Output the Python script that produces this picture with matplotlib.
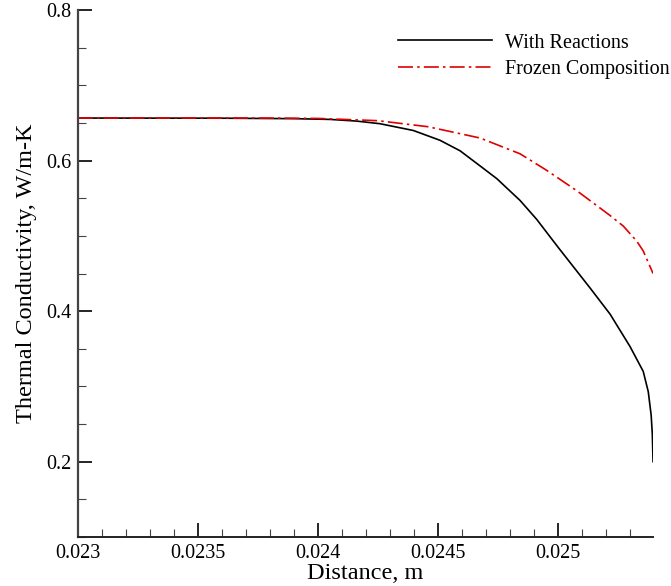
import matplotlib
matplotlib.use('Agg')
import matplotlib.pyplot as plt
from matplotlib.ticker import MultipleLocator

plt.rcParams['font.family'] = ['Liberation Serif', 'DejaVu Serif']

# with reactions (distance m, conductivity W/m-K)
x_react = [0.02300, 0.02360, 0.02390, 0.024050, 0.024160, 0.024258, 0.024397,
           0.024508, 0.024592, 0.024675, 0.024745, 0.024842, 0.024911, 0.025000,
           0.025133, 0.025217, 0.025300, 0.025355, 0.025376, 0.025388, 0.025393,
           0.025396]
k_react = [0.6565, 0.6563, 0.6557, 0.6547, 0.6525, 0.649, 0.640,
           0.627, 0.613, 0.593, 0.576, 0.547, 0.522, 0.485,
           0.431, 0.396, 0.353, 0.320, 0.293, 0.262, 0.236,
           0.200]

# frozen composition
x_frozen = [0.02300, 0.02380, 0.02400, 0.024250, 0.024458, 0.024675, 0.024842,
            0.024953, 0.025078, 0.025133, 0.025217, 0.025272, 0.025328, 0.025355,
            0.025396]
k_frozen = [0.6565, 0.6565, 0.6560, 0.653, 0.645, 0.630, 0.609,
            0.587, 0.560, 0.547, 0.527, 0.513, 0.493, 0.480,
            0.450]

fig = plt.figure(figsize=(6.71, 5.86), dpi=100)
ax = fig.add_axes([0.1162, 0.0836, 0.857, 0.8993])

ax.plot(x_react, k_react, color='black', lw=1.2, label='With Reactions')
ax.plot(x_frozen, k_frozen, color='#e00000', lw=1.2, dashes=(9, 2.5, 1.5, 2.5),
        label='Frozen Composition')

ax.set_xlim(0.023, 0.0253958)
ax.set_ylim(0.1, 0.8)
ax.xaxis.set_minor_locator(MultipleLocator(0.0001))
ax.yaxis.set_minor_locator(MultipleLocator(0.05))
ax.set_xticks([0.023, 0.0235, 0.024, 0.0245, 0.025])
ax.set_xticklabels(['0.023', '0.0235', '0.024', '0.0245', '0.025'])
ax.set_yticks([0.2, 0.4, 0.6, 0.8])
ax.set_yticklabels(['0.2', '0.4', '0.6', '0.8'])

ax.tick_params(which='major', direction='in', length=10, width=1.2,
               labelsize=14.5, colors='black', pad=5)
ax.tick_params(which='minor', direction='in', length=6, width=0.8, colors='#444444')

for s in ['top', 'right']:
    ax.spines[s].set_visible(False)
ax.spines['left'].set_color('#444444')
ax.spines['left'].set_linewidth(1.6)
ax.spines['bottom'].set_color('#222222')
ax.spines['bottom'].set_linewidth(1.4)

ax.set_xlabel('Distance, m', fontsize=17.5, labelpad=0)
ax.set_ylabel('Thermal Conductivity, W/m-K', fontsize=17.5, labelpad=6)

ax.legend(loc='upper right', bbox_to_anchor=(1.061, 0.99), frameon=False, fontsize=14.5,
          handlelength=4.7, handletextpad=0.65, labelspacing=0.35)

fig.savefig('out.png', dpi=100)
